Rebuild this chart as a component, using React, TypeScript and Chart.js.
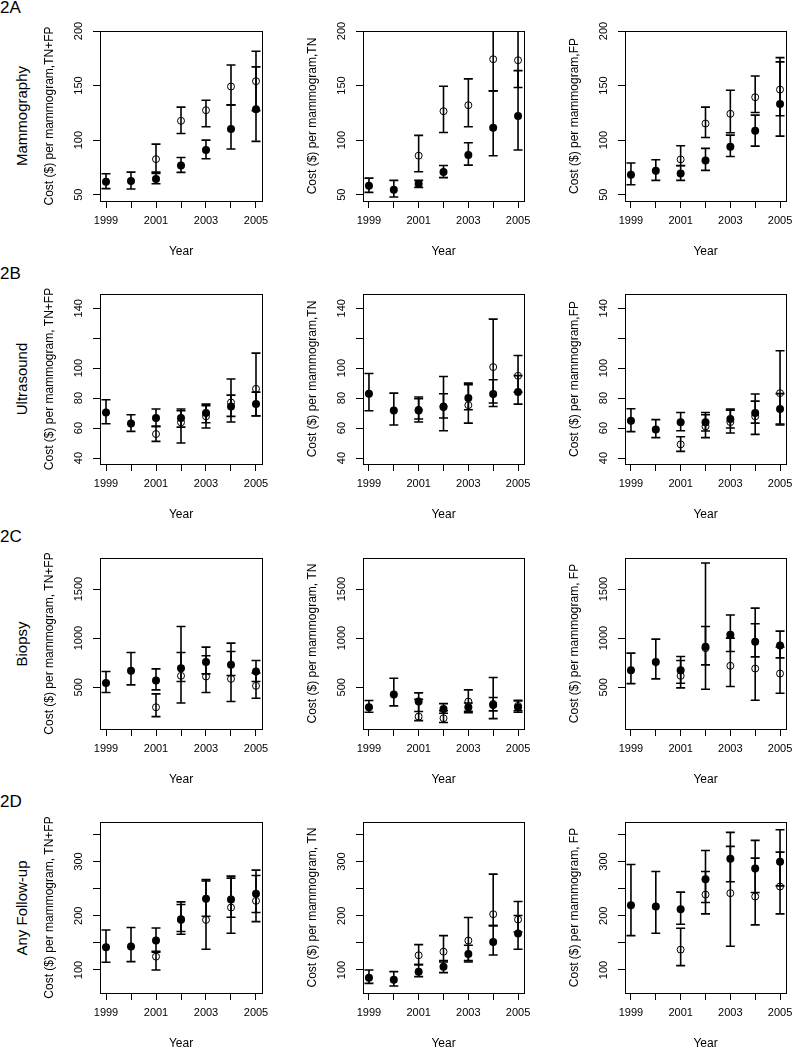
import React, { useEffect, useRef } from "react";
import { Chart, registerables } from "chart.js";

Chart.register(...registerables);

// ---------- data ----------
const years = [1999, 2000, 2001, 2002, 2003, 2004, 2005];
const yearLabels = ["1999", "", "2001", "", "2003", "", "2005"];

const rowNames = ["Mammography", "Ultrasound", "Biopsy", "Any Follow-up"];
const rowTags = ["2A", "2B", "2C", "2D"];

const mamTicks = [50, 100, 150, 200];
const mamTickLabels = ["50", "100", "150", "200"];
const usTicks = [40, 60, 80, 100, 120, 140];
const usTickLabels = ["40", "60", "80", "100", "", "140"];
const bxTicks = [500, 1000, 1500];
const bxTickLabels = ["500", "1000", "1500"];
const fuTicks = [100, 150, 200, 250, 300, 350];
const fuTickLabels = ["100", "", "200", "", "300", ""];

const mamTitles = ["Cost ($) per mammogram,TN+FP", "Cost ($) per mammogram,TN", "Cost ($) per mammogram,FP"];
const usTitles = ["Cost ($) per mammogram, TN+FP", "Cost ($) per mammogram,TN", "Cost ($) per mammogram,FP"];
const bxTitles = ["Cost ($) per mammogram, TN+FP", "Cost ($) per mammogram, TN", "Cost ($) per mammogram, FP"];
const fuTitles = ["Cost ($) per mammogram, TN+FP", "Cost ($) per mammogram, TN", "Cost ($) per mammogram, FP"];

// Mammography, TN+FP
const mamAllF = [61.9, 62.5, 64.3, 76.8, 90.9, 110.1, 128.4];
const mamAllFLo = [55.5, 55.2, 60.0, 70.4, 82.9, 91.8, 98.8];
const mamAllFHi = [69.2, 70.7, 69.5, 84.1, 100.0, 132.3, 167.1];
const mamAllO = [null, null, 82.6, 117.7, 127.4, 149.1, 154.0];
const mamAllOLo = [null, null, 70.7, 106.1, 112.2, 132.3, 127.0];
const mamAllOHi = [null, null, 96.3, 130.2, 136.6, 168.9, 181.4];
// Mammography, TN
const mamTNF = [58.2, 54.6, 60.1, 70.7, 86.3, 111.3, 122.0];
const mamTNFLo = [52.1, 47.9, 56.7, 65.6, 77.1, 85.7, 90.9];
const mamTNFHi = [65.2, 63.1, 63.1, 76.8, 97.6, 145.1, 163.7];
const mamTNO = [null, null, 85.7, 126.5, 132.0, 174.1, 173.2];
const mamTNOLo = [null, null, 71.0, 107.0, 112.2, 145.1, 148.2];
const mamTNOHi = [null, null, 104.3, 149.4, 156.1, 215.0, 225.0];
// Mammography, FP
const mamFPF = [68.3, 72.0, 69.5, 81.4, 93.9, 108.5, 133.2];
const mamFPFLo = [59.1, 63.1, 63.1, 72.3, 85.0, 94.5, 103.7];
const mamFPFHi = [79.0, 82.0, 76.5, 92.4, 104.6, 122.9, 171.7];
const mamFPO = [null, null, 82.3, 115.2, 124.1, 139.3, 146.3];
const mamFPOLo = [null, null, 76.8, 102.4, 106.7, 125.3, 122.3];
const mamFPOHi = [null, null, 94.8, 130.2, 145.7, 158.8, 175.6];

// Ultrasound, TN+FP
const usAllF = [70.4, 63.1, 66.7, 66.7, 70.0, 74.4, 76.0];
const usAllFLo = [62.9, 57.8, 61.1, 60.6, 63.5, 64.0, 68.0];
const usAllFHi = [78.9, 68.9, 72.7, 72.7, 76.0, 82.0, 84.0];
const usAllO = [null, null, 56.0, 63.8, 67.8, 77.1, 86.2];
const usAllOLo = [null, null, 51.1, 50.0, 60.0, 67.8, 68.2];
const usAllOHi = [null, null, 61.1, 71.6, 74.9, 92.7, 110.0];
// Ultrasound, TN
const usTNF = [82.9, 71.8, 71.8, 74.0, 80.0, 82.7, 84.0];
const usTNFLo = [71.6, 62.0, 64.0, 66.7, 72.2, 74.4, 76.0];
const usTNFHi = [96.4, 83.3, 80.7, 82.9, 90.0, 92.2, 95.0];
const usTNO = [null, null, 72.2, 74.5, 75.3, 100.7, 94.9];
const usTNOLo = [null, null, 66.0, 58.2, 63.3, 76.7, 84.0];
const usTNOHi = [null, null, 79.6, 94.4, 88.9, 132.7, 108.4];
// Ultrasound, FP
const usFPF = [64.9, 59.1, 63.8, 63.8, 66.0, 70.0, 72.7];
const usFPFLo = [57.6, 53.6, 58.2, 58.0, 60.0, 63.3, 62.7];
const usFPFHi = [72.9, 65.6, 70.4, 70.4, 72.7, 78.0, 83.0];
const usFPO = [null, null, 49.1, 61.1, 64.0, 67.8, 83.3];
const usFPOLo = [null, null, 44.4, 53.6, 56.7, 55.8, 62.0];
const usFPOHi = [null, null, 54.2, 68.9, 72.0, 82.7, 111.6];

// Biopsy, TN+FP
const bxAllF = [544, 667, 568, 694, 758, 728, 660];
const bxAllFLo = [446, 524, 473, 558, 636, 620, 558];
const bxAllFHi = [660, 854, 687, 854, 908, 864, 772];
const bxAllO = [null, null, 296, 616, 609, 585, 514];
const bxAllOLo = [null, null, 201, 340, 446, 354, 388];
const bxAllOHi = [null, null, 432, 1119, 820, 949, 645];
// Biopsy, TN
const bxTNF = [296, 425, 354, 279, 296, 320, 296];
const bxTNFLo = [245, 310, 252, 235, 255, 259, 245];
const bxTNFHi = [364, 592, 442, 333, 340, 395, 367];
const bxTNO = [null, null, 201, 184, 354, 330, 310];
const bxTNOLo = [null, null, 160, 140, 240, 180, 260];
const bxTNOHi = [null, null, 378, 260, 473, 599, 360];
// Biopsy, FP
const bxFPF = [673, 758, 673, 912, 1034, 963, 925];
const bxFPFLo = [537, 585, 541, 728, 864, 809, 799];
const bxFPFHi = [847, 990, 813, 1119, 1235, 1146, 1071];
const bxFPO = [null, null, 616, 898, 718, 690, 639];
const bxFPOLo = [null, null, 493, 480, 507, 367, 439];
const bxFPOHi = [null, null, 772, 1765, 1000, 1306, 910];

// Any follow-up, TN+FP
const fuAllF = [141.8, 143.1, 154.2, 193.5, 231.1, 229.8, 240.3];
const fuAllFLo = [114.2, 115.4, 132.6, 170.8, 199.0, 197.2, 205.8];
const fuAllFHi = [173.8, 178.2, 177.5, 220.6, 264.0, 269.2, 274.2];
const fuAllO = [null, null, 124.6, 192.0, 192.3, 215.1, 227.4];
const fuAllOLo = [null, null, 100.0, 165.8, 138.2, 167.7, 189.2];
const fuAllOHi = [null, null, 134.5, 225.5, 266.5, 272.9, 284.0];
// Any follow-up, TN
const fuTNF = [85.8, 82.2, 96.9, 106.2, 129.5, 151.7, 167.1];
const fuTNFLo = [75.4, 70.5, 87.7, 95.1, 114.8, 127.7, 138.2];
const fuTNFHi = [100.0, 96.9, 109.8, 117.2, 145.5, 181.8, 200.3];
const fuTNO = [null, null, 127.1, 133.8, 154.2, 202.8, 192.9];
const fuTNOLo = [null, null, 109.8, 114.8, 117.2, 181.8, 170.0];
const fuTNOHi = [null, null, 146.8, 163.4, 196.6, 276.6, 226.2];
// Any follow-up, FP
const fuFPF = [219.4, 216.9, 212.0, 267.4, 304.9, 287.1, 299.4];
const fuFPFLo = [163.4, 167.7, 184.4, 224.3, 262.5, 242.8, 255.0];
const fuFPFHi = [294.5, 281.6, 243.4, 281.6, 353.5, 338.8, 358.5];
const fuFPO = [null, null, 137.5, 239.1, 241.5, 235.4, 253.8];
const fuFPOLo = [null, null, 108.0, 203.4, 143.7, 183.1, 203.4];
const fuFPOHi = [null, null, 176.9, 320.3, 327.7, 306.2, 317.2];

// ---------- layout ----------
const FONT = '"Liberation Sans", Arial, Helvetica, sans-serif';
const COL_L = [100, 363, 625];
const COL_R = [262, 524, 786];
const ROW_T = [31, 294, 558, 822];
const ROW_B = [201, 464, 729, 993];
const ROW_YMIN = [44.2, 36, 74.5, 57.6];
const ROW_YMAX = [200, 149.5, 1816, 372.7];
const X_MIN = 1998.76;
const X_MAX = 2005.24;
const AX_L = 66;
const PAD_T = 22;
const PAD_R = 16;
const AX_B = 64;
const TAG_BASE = [13, 279, 542, 807];

type Arr = (number | null)[];
interface PanelCfg {
  row: number;
  col: number;
  title: string;
  ticks: number[];
  tickLabels: string[];
  f: Arr; fLo: Arr; fHi: Arr;
  o: Arr; oLo: Arr; oHi: Arr;
}

const rowTicks = [mamTicks, usTicks, bxTicks, fuTicks];
const rowTickLabels = [mamTickLabels, usTickLabels, bxTickLabels, fuTickLabels];
const rowTitles = [mamTitles, usTitles, bxTitles, fuTitles];
const series: Arr[][] = [
  [mamAllF, mamAllFLo, mamAllFHi, mamAllO, mamAllOLo, mamAllOHi],
  [mamTNF, mamTNFLo, mamTNFHi, mamTNO, mamTNOLo, mamTNOHi],
  [mamFPF, mamFPFLo, mamFPFHi, mamFPO, mamFPOLo, mamFPOHi],
  [usAllF, usAllFLo, usAllFHi, usAllO, usAllOLo, usAllOHi],
  [usTNF, usTNFLo, usTNFHi, usTNO, usTNOLo, usTNOHi],
  [usFPF, usFPFLo, usFPFHi, usFPO, usFPOLo, usFPOHi],
  [bxAllF, bxAllFLo, bxAllFHi, bxAllO, bxAllOLo, bxAllOHi],
  [bxTNF, bxTNFLo, bxTNFHi, bxTNO, bxTNOLo, bxTNOHi],
  [bxFPF, bxFPFLo, bxFPFHi, bxFPO, bxFPOLo, bxFPOHi],
  [fuAllF, fuAllFLo, fuAllFHi, fuAllO, fuAllOLo, fuAllOHi],
  [fuTNF, fuTNFLo, fuTNFHi, fuTNO, fuTNOLo, fuTNOHi],
  [fuFPF, fuFPFLo, fuFPFHi, fuFPO, fuFPOLo, fuFPOHi],
];

const panels: PanelCfg[] = series.map((s, k) => {
  const row = Math.floor(k / 3);
  const col = k % 3;
  return {
    row, col,
    title: rowTitles[row][col],
    ticks: rowTicks[row],
    tickLabels: rowTickLabels[row],
    f: s[0], fLo: s[1], fHi: s[2], o: s[3], oLo: s[4], oHi: s[5],
  };
});

const CAP = 4.5;

const decoPlugin = {
  id: "deco",
  beforeDatasetsDraw(chart: any) {
    const { ctx, chartArea: a, scales } = chart;
    const xs = scales.x, ys = scales.y;
    ctx.save();
    ctx.beginPath();
    ctx.rect(a.left, a.top, a.right - a.left, a.bottom - a.top);
    ctx.clip();
    ctx.strokeStyle = "#000";
    ctx.lineWidth = 1.6;
    chart.data.datasets.forEach((ds: any) => {
      years.forEach((yr, i) => {
        const lo = ds.lo[i], hi = ds.hi[i];
        if (lo == null || hi == null) return;
        const px = xs.getPixelForValue(yr);
        const p1 = ys.getPixelForValue(lo);
        const p2 = ys.getPixelForValue(hi);
        ctx.beginPath();
        ctx.moveTo(px, p1); ctx.lineTo(px, p2);
        ctx.moveTo(px - CAP, p1); ctx.lineTo(px + CAP, p1);
        ctx.moveTo(px - CAP, p2); ctx.lineTo(px + CAP, p2);
        ctx.stroke();
      });
    });
    ctx.restore();
  },
  afterDraw(chart: any, _args: any, opts: any) {
    const { ctx, chartArea: a, scales } = chart;
    const xs = scales.x, ys = scales.y;
    ctx.save();
    ctx.strokeStyle = "#000";
    ctx.lineWidth = 1;
    ctx.strokeRect(Math.round(a.left) + 0.5, Math.round(a.top) + 0.5, Math.round(a.right - a.left), Math.round(a.bottom - a.top));
    ctx.fillStyle = "#000";
    ctx.font = `11px ${FONT}`;
    ctx.textAlign = "center";
    ctx.textBaseline = "middle";
    years.forEach((yr, i) => {
      if (!yearLabels[i]) return;
      ctx.fillText(yearLabels[i], xs.getPixelForValue(yr), a.bottom + 20);
    });
    ctx.font = `12px ${FONT}`;
    ctx.fillText("Year", (a.left + a.right) / 2, a.bottom + 51);
    ctx.font = `11px ${FONT}`;
    opts.ticks.forEach((v: number, i: number) => {
      const lab = opts.tickLabels[i];
      if (!lab) return;
      ctx.save();
      ctx.translate(a.left - 21, ys.getPixelForValue(v));
      ctx.rotate(-Math.PI / 2);
      ctx.fillText(lab, 0, 0);
      ctx.restore();
    });
    ctx.font = `12px ${FONT}`;
    ctx.save();
    ctx.translate(a.left - 50, (a.top + a.bottom) / 2);
    ctx.rotate(-Math.PI / 2);
    ctx.fillText(opts.title, 0, 0);
    ctx.restore();
    ctx.restore();
  },
};

function toPoints(vals: Arr) {
  const pts: { x: number; y: number }[] = [];
  years.forEach((yr, i) => {
    const v = vals[i];
    if (v != null) pts.push({ x: yr, y: v });
  });
  return pts;
}

function Panel({ cfg }: { cfg: PanelCfg }) {
  const ref = useRef<HTMLCanvasElement>(null);
  const L = COL_L[cfg.col], R = COL_R[cfg.col];
  const T = ROW_T[cfg.row], B = ROW_B[cfg.row];
  const W = AX_L + (R - L) + PAD_R;
  const H = PAD_T + (B - T) + AX_B;

  useEffect(() => {
    const tickGrid = {
      display: true,
      drawOnChartArea: false,
      drawTicks: true,
      tickLength: 7,
      color: "#000",
      lineWidth: 1,
    };
    const chart = new Chart(ref.current as HTMLCanvasElement, {
      type: "scatter",
      data: {
        datasets: [
          {
            data: toPoints(cfg.f),
            lo: cfg.fLo,
            hi: cfg.fHi,
            pointStyle: "circle",
            pointRadius: 4,
            pointBackgroundColor: "#000",
            pointBorderColor: "#000",
            pointBorderWidth: 0,
            showLine: false,
          } as any,
          {
            data: toPoints(cfg.o),
            lo: cfg.oLo,
            hi: cfg.oHi,
            pointStyle: "circle",
            pointRadius: 3.5,
            pointBackgroundColor: "rgba(0,0,0,0)",
            pointBorderColor: "#000",
            pointBorderWidth: 1,
            showLine: false,
          } as any,
        ],
      },
      options: {
        responsive: false,
        animation: false,
        events: [],
        layout: { padding: { left: 0, top: PAD_T, right: PAD_R, bottom: 0 } },
        plugins: {
          legend: { display: false },
          tooltip: { enabled: false },
          deco: { title: cfg.title, ticks: cfg.ticks, tickLabels: cfg.tickLabels },
        } as any,
        scales: {
          x: {
            type: "linear",
            position: "bottom",
            min: X_MIN,
            max: X_MAX,
            afterBuildTicks: (s: any) => { s.ticks = years.map((v) => ({ value: v })); },
            afterFit: (s: any) => { s.height = AX_B; },
            ticks: { display: false },
            grid: tickGrid,
            border: { display: false },
          },
          y: {
            type: "linear",
            position: "left",
            min: ROW_YMIN[cfg.row],
            max: ROW_YMAX[cfg.row],
            afterBuildTicks: (s: any) => { s.ticks = cfg.ticks.map((v) => ({ value: v })); },
            afterFit: (s: any) => { s.width = AX_L; },
            ticks: { display: false },
            grid: tickGrid,
            border: { display: false },
          },
        },
      } as any,
      plugins: [decoPlugin],
    });
    return () => chart.destroy();
  }, []);

  return (
    <canvas
      ref={ref}
      width={W}
      height={H}
      style={{ position: "absolute", left: L - AX_L, top: T - PAD_T, width: W, height: H }}
    />
  );
}

export default function App() {
  return (
    <div style={{ position: "absolute", left: 0, top: 0, width: 793, height: 1048, background: "#fff", fontFamily: FONT, color: "#000" }}>
      {panels.map((p, k) => (
        <Panel key={k} cfg={p} />
      ))}
      {rowTags.map((t, r) => (
        <div key={"t" + r} style={{ position: "absolute", left: 0, top: TAG_BASE[r] - 14, fontSize: 17, lineHeight: "17px", whiteSpace: "nowrap" }}>
          {t}
        </div>
      ))}
      {rowNames.map((n, r) => (
        <div
          key={"n" + r}
          style={{
            position: "absolute",
            left: 21,
            top: (ROW_T[r] + ROW_B[r]) / 2,
            transform: "translate(-50%, -50%) rotate(-90deg)",
            fontSize: 15,
            lineHeight: "15px",
            whiteSpace: "nowrap",
          }}
        >
          {n}
        </div>
      ))}
    </div>
  );
}
